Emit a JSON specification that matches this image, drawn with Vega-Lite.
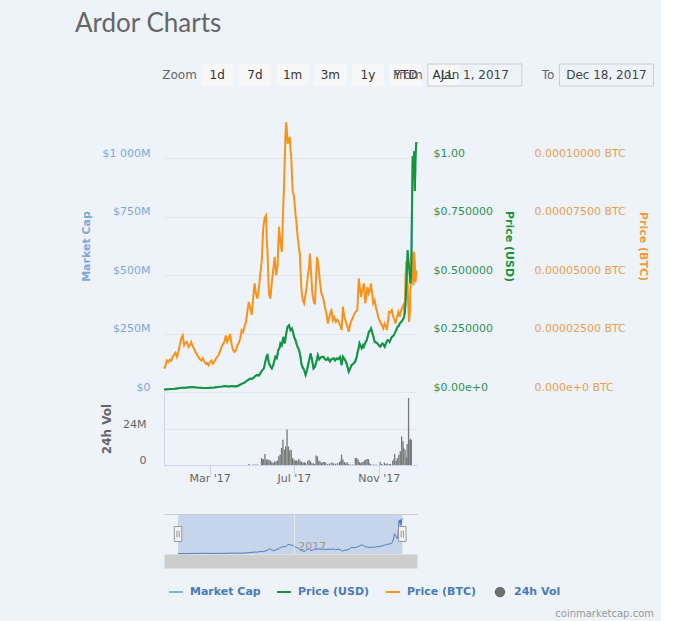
{
  "$schema": "https://vega.github.io/schema/vega-lite/v6.json",
  "background": "#eef3f9",
  "padding": {"left": 75, "top": 11, "right": 5, "bottom": 5},
  "title": {"text": "Ardor Charts", "anchor": "start", "frame": "bounds", "font": "Lato", "fontSize": 26, "fontWeight": "normal", "color": "#666666", "offset": 13, "dx": -5},
  "bounds": "flush",
  "spacing": 0,
  "datasets": {
    "buttons": [
      {"label": "Zoom", "kind": "text"}, {"label": "1d", "kind": "button"}, {"label": "7d", "kind": "button"}, {"label": "1m", "kind": "button"},
      {"label": "3m", "kind": "button"}, {"label": "1y", "kind": "button"}, {"label": "YTD", "kind": "button"}, {"label": "ALL", "kind": "button"}
    ],
    "range": [{"label": "From", "value": "Jan 1, 2017"}, {"label": "To", "value": "Dec 18, 2017"}],
    "selection": [{"start": "2017-01-01", "end": "2017-12-18"}],
    "series": [{"series": "Market Cap"}, {"series": "Price (USD)"}, {"series": "Price (BTC)"}, {"series": "24h Vol"}],
    "usd": [
      {"date":"2017-01-01","usd":0.011,"mcap":11},{"date":"2017-01-06","usd":0.012,"mcap":12},{"date":"2017-01-11","usd":0.013,"mcap":13},
      {"date":"2017-01-16","usd":0.014,"mcap":14},{"date":"2017-01-21","usd":0.016,"mcap":16},{"date":"2017-01-26","usd":0.018,"mcap":18},
      {"date":"2017-01-31","usd":0.018,"mcap":18},{"date":"2017-02-05","usd":0.020,"mcap":20},{"date":"2017-02-10","usd":0.021,"mcap":21},
      {"date":"2017-02-15","usd":0.019,"mcap":19},{"date":"2017-02-20","usd":0.018,"mcap":18},{"date":"2017-02-25","usd":0.017,"mcap":17},
      {"date":"2017-03-02","usd":0.017,"mcap":17},{"date":"2017-03-07","usd":0.018,"mcap":18},{"date":"2017-03-12","usd":0.019,"mcap":19},
      {"date":"2017-03-17","usd":0.021,"mcap":21},{"date":"2017-03-22","usd":0.023,"mcap":23},{"date":"2017-03-27","usd":0.026,"mcap":26},
      {"date":"2017-04-01","usd":0.024,"mcap":24},{"date":"2017-04-06","usd":0.026,"mcap":26},{"date":"2017-04-11","usd":0.024,"mcap":24},
      {"date":"2017-04-15","usd":0.028,"mcap":28},{"date":"2017-04-19","usd":0.035,"mcap":35},{"date":"2017-04-23","usd":0.040,"mcap":40},
      {"date":"2017-04-27","usd":0.050,"mcap":50},{"date":"2017-05-01","usd":0.058,"mcap":58},{"date":"2017-05-04","usd":0.056,"mcap":56},
      {"date":"2017-05-07","usd":0.065,"mcap":65},{"date":"2017-05-10","usd":0.073,"mcap":73},{"date":"2017-05-13","usd":0.070,"mcap":70},
      {"date":"2017-05-15","usd":0.080,"mcap":80},{"date":"2017-05-17","usd":0.090,"mcap":90},{"date":"2017-05-20","usd":0.101,"mcap":101},
      {"date":"2017-05-22","usd":0.130,"mcap":130},{"date":"2017-05-24","usd":0.155,"mcap":155},{"date":"2017-05-25","usd":0.158,"mcap":158},
      {"date":"2017-05-27","usd":0.123,"mcap":123},{"date":"2017-05-29","usd":0.110,"mcap":110},{"date":"2017-05-31","usd":0.101,"mcap":101},
      {"date":"2017-06-02","usd":0.115,"mcap":115},{"date":"2017-06-04","usd":0.140,"mcap":140},{"date":"2017-06-05","usd":0.151,"mcap":151},
      {"date":"2017-06-07","usd":0.145,"mcap":145},{"date":"2017-06-09","usd":0.179,"mcap":179},{"date":"2017-06-11","usd":0.190,"mcap":190},
      {"date":"2017-06-12","usd":0.208,"mcap":208},{"date":"2017-06-14","usd":0.200,"mcap":200},{"date":"2017-06-16","usd":0.236,"mcap":236},
      {"date":"2017-06-18","usd":0.208,"mcap":208},{"date":"2017-06-20","usd":0.250,"mcap":250},{"date":"2017-06-22","usd":0.279,"mcap":279},
      {"date":"2017-06-24","usd":0.286,"mcap":286},{"date":"2017-06-25","usd":0.275,"mcap":275},{"date":"2017-06-26","usd":0.265,"mcap":265},
      {"date":"2017-06-28","usd":0.272,"mcap":272},{"date":"2017-06-30","usd":0.250,"mcap":250},{"date":"2017-07-01","usd":0.236,"mcap":236},
      {"date":"2017-07-03","usd":0.222,"mcap":222},{"date":"2017-07-05","usd":0.200,"mcap":200},{"date":"2017-07-08","usd":0.179,"mcap":179},
      {"date":"2017-07-10","usd":0.150,"mcap":150},{"date":"2017-07-11","usd":0.123,"mcap":123},{"date":"2017-07-13","usd":0.105,"mcap":105},
      {"date":"2017-07-15","usd":0.094,"mcap":94},{"date":"2017-07-17","usd":0.073,"mcap":73},{"date":"2017-07-19","usd":0.094,"mcap":94},
      {"date":"2017-07-21","usd":0.123,"mcap":123},{"date":"2017-07-23","usd":0.150,"mcap":150},{"date":"2017-07-24","usd":0.165,"mcap":165},
      {"date":"2017-07-26","usd":0.137,"mcap":137},{"date":"2017-07-28","usd":0.101,"mcap":101},{"date":"2017-07-30","usd":0.108,"mcap":108},
      {"date":"2017-08-01","usd":0.130,"mcap":130},{"date":"2017-08-03","usd":0.158,"mcap":158},{"date":"2017-08-05","usd":0.140,"mcap":140},
      {"date":"2017-08-06","usd":0.144,"mcap":144},{"date":"2017-08-08","usd":0.150,"mcap":150},{"date":"2017-08-11","usd":0.151,"mcap":151},
      {"date":"2017-08-13","usd":0.140,"mcap":140},{"date":"2017-08-15","usd":0.137,"mcap":137},{"date":"2017-08-17","usd":0.145,"mcap":145},
      {"date":"2017-08-20","usd":0.130,"mcap":130},{"date":"2017-08-22","usd":0.140,"mcap":140},{"date":"2017-08-25","usd":0.144,"mcap":144},
      {"date":"2017-08-27","usd":0.135,"mcap":135},{"date":"2017-08-29","usd":0.144,"mcap":144},{"date":"2017-08-31","usd":0.140,"mcap":140},
      {"date":"2017-09-03","usd":0.151,"mcap":151},{"date":"2017-09-05","usd":0.115,"mcap":115},{"date":"2017-09-07","usd":0.151,"mcap":151},
      {"date":"2017-09-10","usd":0.137,"mcap":137},{"date":"2017-09-12","usd":0.123,"mcap":123},{"date":"2017-09-14","usd":0.100,"mcap":100},
      {"date":"2017-09-15","usd":0.087,"mcap":87},{"date":"2017-09-17","usd":0.100,"mcap":100},{"date":"2017-09-19","usd":0.115,"mcap":115},
      {"date":"2017-09-21","usd":0.120,"mcap":120},{"date":"2017-09-24","usd":0.130,"mcap":130},{"date":"2017-09-26","usd":0.150,"mcap":150},
      {"date":"2017-09-27","usd":0.165,"mcap":165},{"date":"2017-09-29","usd":0.190,"mcap":190},{"date":"2017-09-30","usd":0.208,"mcap":208},
      {"date":"2017-10-02","usd":0.195,"mcap":195},{"date":"2017-10-03","usd":0.187,"mcap":187},{"date":"2017-10-05","usd":0.200,"mcap":200},
      {"date":"2017-10-06","usd":0.194,"mcap":194},{"date":"2017-10-08","usd":0.210,"mcap":210},{"date":"2017-10-10","usd":0.222,"mcap":222},
      {"date":"2017-10-12","usd":0.245,"mcap":245},{"date":"2017-10-13","usd":0.258,"mcap":258},{"date":"2017-10-15","usd":0.265,"mcap":265},
      {"date":"2017-10-16","usd":0.272,"mcap":272},{"date":"2017-10-18","usd":0.251,"mcap":251},{"date":"2017-10-20","usd":0.230,"mcap":230},
      {"date":"2017-10-21","usd":0.215,"mcap":215},{"date":"2017-10-23","usd":0.212,"mcap":212},{"date":"2017-10-25","usd":0.208,"mcap":208},
      {"date":"2017-10-27","usd":0.200,"mcap":200},{"date":"2017-10-29","usd":0.194,"mcap":194},{"date":"2017-10-31","usd":0.205,"mcap":205},
      {"date":"2017-11-01","usd":0.208,"mcap":208},{"date":"2017-11-03","usd":0.200,"mcap":200},{"date":"2017-11-04","usd":0.194,"mcap":194},
      {"date":"2017-11-06","usd":0.210,"mcap":210},{"date":"2017-11-08","usd":0.222,"mcap":222},{"date":"2017-11-10","usd":0.220,"mcap":220},
      {"date":"2017-11-11","usd":0.215,"mcap":215},{"date":"2017-11-13","usd":0.230,"mcap":230},{"date":"2017-11-14","usd":0.236,"mcap":236},
      {"date":"2017-11-16","usd":0.240,"mcap":240},{"date":"2017-11-18","usd":0.251,"mcap":251},{"date":"2017-11-20","usd":0.265,"mcap":265},
      {"date":"2017-11-22","usd":0.279,"mcap":279},{"date":"2017-11-24","usd":0.285,"mcap":285},{"date":"2017-11-25","usd":0.293,"mcap":293},
      {"date":"2017-11-27","usd":0.300,"mcap":300},{"date":"2017-11-29","usd":0.307,"mcap":307},{"date":"2017-12-01","usd":0.322,"mcap":322},
      {"date":"2017-12-02","usd":0.340,"mcap":340},{"date":"2017-12-03","usd":0.379,"mcap":379},{"date":"2017-12-04","usd":0.450,"mcap":450},
      {"date":"2017-12-05","usd":0.521,"mcap":521},{"date":"2017-12-06","usd":0.607,"mcap":607},{"date":"2017-12-07","usd":0.560,"mcap":560},
      {"date":"2017-12-08","usd":0.536,"mcap":536},{"date":"2017-12-09","usd":0.500,"mcap":500},{"date":"2017-12-10","usd":0.465,"mcap":465},
      {"date":"2017-12-11","usd":0.521,"mcap":521},{"date":"2017-12-12","usd":0.780,"mcap":780},{"date":"2017-12-13","usd":1.010,"mcap":1010},
      {"date":"2017-12-14","usd":0.920,"mcap":920},{"date":"2017-12-15","usd":1.030,"mcap":1030},{"date":"2017-12-16","usd":0.860,"mcap":860},
      {"date":"2017-12-17","usd":1.010,"mcap":1010},{"date":"2017-12-18","usd":1.070,"mcap":1070}
    ],
    "btc": [
      {"date":"2017-01-01","sat":1000},{"date":"2017-01-03","sat":1100},{"date":"2017-01-05","sat":1350},{"date":"2017-01-07","sat":1280},
      {"date":"2017-01-09","sat":1380},{"date":"2017-01-11","sat":1330},{"date":"2017-01-13","sat":1500},{"date":"2017-01-15","sat":1600},
      {"date":"2017-01-17","sat":1680},{"date":"2017-01-19","sat":1500},{"date":"2017-01-21","sat":1720},{"date":"2017-01-23","sat":2000},
      {"date":"2017-01-25","sat":2300},{"date":"2017-01-27","sat":2420},{"date":"2017-01-29","sat":2000},{"date":"2017-01-31","sat":2120},
      {"date":"2017-02-02","sat":2140},{"date":"2017-02-04","sat":1920},{"date":"2017-02-06","sat":2000},{"date":"2017-02-08","sat":2140},
      {"date":"2017-02-10","sat":1950},{"date":"2017-02-12","sat":1850},{"date":"2017-02-14","sat":1700},{"date":"2017-02-16","sat":1600},
      {"date":"2017-02-18","sat":1500},{"date":"2017-02-20","sat":1400},{"date":"2017-02-22","sat":1350},{"date":"2017-02-24","sat":1450},
      {"date":"2017-02-26","sat":1300},{"date":"2017-02-28","sat":1210},{"date":"2017-03-02","sat":1250},{"date":"2017-03-04","sat":1140},
      {"date":"2017-03-06","sat":1280},{"date":"2017-03-08","sat":1350},{"date":"2017-03-10","sat":1210},{"date":"2017-03-12","sat":1300},
      {"date":"2017-03-14","sat":1420},{"date":"2017-03-16","sat":1500},{"date":"2017-03-18","sat":1570},{"date":"2017-03-20","sat":1750},
      {"date":"2017-03-22","sat":1920},{"date":"2017-03-24","sat":2050},{"date":"2017-03-26","sat":2140},{"date":"2017-03-28","sat":2420},
      {"date":"2017-03-30","sat":2140},{"date":"2017-04-01","sat":2280},{"date":"2017-04-03","sat":2490},{"date":"2017-04-05","sat":2050},
      {"date":"2017-04-07","sat":1800},{"date":"2017-04-09","sat":1720},{"date":"2017-04-11","sat":1800},{"date":"2017-04-13","sat":1990},
      {"date":"2017-04-15","sat":2100},{"date":"2017-04-17","sat":2280},{"date":"2017-04-19","sat":2640},{"date":"2017-04-21","sat":2560},
      {"date":"2017-04-23","sat":2800},{"date":"2017-04-25","sat":3000},{"date":"2017-04-27","sat":3450},{"date":"2017-04-29","sat":3850},
      {"date":"2017-05-01","sat":3600},{"date":"2017-05-03","sat":3300},{"date":"2017-05-05","sat":4000},{"date":"2017-05-07","sat":4650},
      {"date":"2017-05-09","sat":4200},{"date":"2017-05-11","sat":4000},{"date":"2017-05-13","sat":4400},{"date":"2017-05-15","sat":5080},
      {"date":"2017-05-17","sat":5600},{"date":"2017-05-19","sat":7000},{"date":"2017-05-21","sat":7450},{"date":"2017-05-23","sat":7560},
      {"date":"2017-05-24","sat":6500},{"date":"2017-05-25","sat":6000},{"date":"2017-05-27","sat":4200},{"date":"2017-05-29","sat":4000},
      {"date":"2017-05-31","sat":4700},{"date":"2017-06-02","sat":5210},{"date":"2017-06-04","sat":5780},{"date":"2017-06-06","sat":5000},
      {"date":"2017-06-08","sat":5400},{"date":"2017-06-10","sat":7070},{"date":"2017-06-12","sat":6400},{"date":"2017-06-14","sat":6000},
      {"date":"2017-06-16","sat":8060},{"date":"2017-06-17","sat":8800},{"date":"2017-06-18","sat":9910},{"date":"2017-06-19","sat":11000},
      {"date":"2017-06-20","sat":11550},{"date":"2017-06-21","sat":11200},{"date":"2017-06-22","sat":10630},{"date":"2017-06-24","sat":10800},
      {"date":"2017-06-25","sat":10920},{"date":"2017-06-26","sat":10400},{"date":"2017-06-27","sat":10060},{"date":"2017-06-28","sat":9300},
      {"date":"2017-06-29","sat":8630},{"date":"2017-07-01","sat":8350},{"date":"2017-07-03","sat":7600},{"date":"2017-07-04","sat":7350},
      {"date":"2017-07-06","sat":6640},{"date":"2017-07-08","sat":6100},{"date":"2017-07-09","sat":5930},{"date":"2017-07-10","sat":5200},
      {"date":"2017-07-11","sat":4500},{"date":"2017-07-12","sat":4200},{"date":"2017-07-13","sat":3930},{"date":"2017-07-15","sat":3790},
      {"date":"2017-07-16","sat":4000},{"date":"2017-07-17","sat":4200},{"date":"2017-07-18","sat":4360},{"date":"2017-07-20","sat":4930},
      {"date":"2017-07-22","sat":5400},{"date":"2017-07-23","sat":5930},{"date":"2017-07-24","sat":5400},{"date":"2017-07-25","sat":4930},
      {"date":"2017-07-26","sat":4400},{"date":"2017-07-27","sat":4070},{"date":"2017-07-29","sat":3800},{"date":"2017-07-30","sat":3790},
      {"date":"2017-07-31","sat":4500},{"date":"2017-08-02","sat":5780},{"date":"2017-08-03","sat":5600},{"date":"2017-08-04","sat":5360},
      {"date":"2017-08-06","sat":4700},{"date":"2017-08-08","sat":4210},{"date":"2017-08-10","sat":4070},{"date":"2017-08-12","sat":3790},
      {"date":"2017-08-13","sat":3600},{"date":"2017-08-15","sat":3360},{"date":"2017-08-17","sat":2930},{"date":"2017-08-19","sat":3220},
      {"date":"2017-08-21","sat":3450},{"date":"2017-08-22","sat":3500},{"date":"2017-08-24","sat":3070},{"date":"2017-08-26","sat":3200},
      {"date":"2017-08-28","sat":3000},{"date":"2017-08-30","sat":3100},{"date":"2017-09-01","sat":3000},{"date":"2017-09-02","sat":2930},
      {"date":"2017-09-04","sat":2800},{"date":"2017-09-05","sat":2650},{"date":"2017-09-07","sat":3650},{"date":"2017-09-08","sat":3400},
      {"date":"2017-09-09","sat":3220},{"date":"2017-09-11","sat":3000},{"date":"2017-09-12","sat":2930},{"date":"2017-09-14","sat":2700},
      {"date":"2017-09-15","sat":2580},{"date":"2017-09-17","sat":2900},{"date":"2017-09-19","sat":3070},{"date":"2017-09-21","sat":3200},
      {"date":"2017-09-23","sat":3360},{"date":"2017-09-25","sat":3450},{"date":"2017-09-27","sat":3500},{"date":"2017-09-29","sat":4860},
      {"date":"2017-09-30","sat":4600},{"date":"2017-10-02","sat":4070},{"date":"2017-10-03","sat":4200},{"date":"2017-10-04","sat":4360},
      {"date":"2017-10-06","sat":4650},{"date":"2017-10-07","sat":4300},{"date":"2017-10-08","sat":3790},{"date":"2017-10-10","sat":4200},
      {"date":"2017-10-11","sat":4500},{"date":"2017-10-13","sat":4220},{"date":"2017-10-15","sat":4400},{"date":"2017-10-16","sat":4650},
      {"date":"2017-10-18","sat":4100},{"date":"2017-10-19","sat":3790},{"date":"2017-10-21","sat":3930},{"date":"2017-10-23","sat":3600},
      {"date":"2017-10-24","sat":3500},{"date":"2017-10-26","sat":3220},{"date":"2017-10-28","sat":3050},{"date":"2017-10-30","sat":2930},
      {"date":"2017-11-01","sat":2800},{"date":"2017-11-02","sat":2720},{"date":"2017-11-04","sat":2930},{"date":"2017-11-06","sat":2800},
      {"date":"2017-11-07","sat":2650},{"date":"2017-11-09","sat":3100},{"date":"2017-11-10","sat":3430},{"date":"2017-11-12","sat":3400},
      {"date":"2017-11-14","sat":3500},{"date":"2017-11-16","sat":3220},{"date":"2017-11-18","sat":3050},{"date":"2017-11-19","sat":2930},
      {"date":"2017-11-21","sat":3200},{"date":"2017-11-23","sat":3430},{"date":"2017-11-25","sat":3220},{"date":"2017-11-27","sat":3500},
      {"date":"2017-11-29","sat":3650},{"date":"2017-11-30","sat":3720},{"date":"2017-12-02","sat":3360},{"date":"2017-12-03","sat":4930},
      {"date":"2017-12-04","sat":5600},{"date":"2017-12-05","sat":5200},{"date":"2017-12-06","sat":4500},{"date":"2017-12-07","sat":3600},
      {"date":"2017-12-08","sat":3000},{"date":"2017-12-09","sat":3400},{"date":"2017-12-10","sat":4500},{"date":"2017-12-11","sat":5500},
      {"date":"2017-12-12","sat":5980},{"date":"2017-12-13","sat":5000},{"date":"2017-12-14","sat":4560},{"date":"2017-12-15","sat":6000},
      {"date":"2017-12-16","sat":5500},{"date":"2017-12-17","sat":4700},{"date":"2017-12-18","sat":5200}
    ],
    "vol": [
      {"date":"2017-04-27","vol":0.7},{"date":"2017-05-03","vol":0.4},{"date":"2017-05-06","vol":0.4},{"date":"2017-05-09","vol":0.4},
      {"date":"2017-05-15","vol":4.7},{"date":"2017-05-16","vol":3.6},{"date":"2017-05-18","vol":4.0},{"date":"2017-05-20","vol":7.3},
      {"date":"2017-05-22","vol":3.6},{"date":"2017-05-24","vol":3.6},{"date":"2017-05-26","vol":3.1},{"date":"2017-05-28","vol":3.1},
      {"date":"2017-05-30","vol":2.0},{"date":"2017-06-01","vol":1.3},{"date":"2017-06-03","vol":2.4},{"date":"2017-06-05","vol":2.4},
      {"date":"2017-06-07","vol":2.9},{"date":"2017-06-09","vol":5.8},{"date":"2017-06-11","vol":6.9},{"date":"2017-06-13","vol":11.3},
      {"date":"2017-06-15","vol":16.9},{"date":"2017-06-17","vol":10.2},{"date":"2017-06-19","vol":12.4},{"date":"2017-06-21","vol":23.6},
      {"date":"2017-06-23","vol":12.4},{"date":"2017-06-25","vol":9.6},{"date":"2017-06-27","vol":10.2},{"date":"2017-06-29","vol":4.7},
      {"date":"2017-07-01","vol":3.6},{"date":"2017-07-03","vol":2.9},{"date":"2017-07-05","vol":3.1},{"date":"2017-07-07","vol":2.4},
      {"date":"2017-07-08","vol":4.2},{"date":"2017-07-10","vol":2.9},{"date":"2017-07-12","vol":2.0},{"date":"2017-07-14","vol":1.6},
      {"date":"2017-07-16","vol":2.0},{"date":"2017-07-18","vol":1.3},{"date":"2017-07-21","vol":2.9},{"date":"2017-07-23","vol":3.3},
      {"date":"2017-07-25","vol":2.4},{"date":"2017-07-27","vol":1.1},{"date":"2017-07-29","vol":1.1},{"date":"2017-07-31","vol":0.7},
      {"date":"2017-08-02","vol":6.4},{"date":"2017-08-04","vol":5.8},{"date":"2017-08-06","vol":2.9},{"date":"2017-08-08","vol":2.4},
      {"date":"2017-08-10","vol":1.3},{"date":"2017-08-12","vol":2.0},{"date":"2017-08-14","vol":2.0},{"date":"2017-08-16","vol":1.6},
      {"date":"2017-08-19","vol":0.7},{"date":"2017-08-22","vol":1.1},{"date":"2017-08-25","vol":1.6},{"date":"2017-08-27","vol":1.1},
      {"date":"2017-08-30","vol":0.9},{"date":"2017-09-02","vol":1.3},{"date":"2017-09-05","vol":2.0},{"date":"2017-09-07","vol":2.9},
      {"date":"2017-09-08","vol":6.9},{"date":"2017-09-10","vol":3.6},{"date":"2017-09-12","vol":2.0},{"date":"2017-09-14","vol":1.1},
      {"date":"2017-09-16","vol":2.0},{"date":"2017-09-18","vol":0.7},{"date":"2017-09-21","vol":0.4},{"date":"2017-09-24","vol":0.4},
      {"date":"2017-09-28","vol":4.7},{"date":"2017-09-30","vol":4.7},{"date":"2017-10-02","vol":3.6},{"date":"2017-10-04","vol":2.0},
      {"date":"2017-10-05","vol":1.1},{"date":"2017-10-07","vol":1.6},{"date":"2017-10-09","vol":2.0},{"date":"2017-10-11","vol":2.9},
      {"date":"2017-10-13","vol":3.6},{"date":"2017-10-15","vol":4.0},{"date":"2017-10-17","vol":3.8},{"date":"2017-10-18","vol":1.1},
      {"date":"2017-10-20","vol":0.7},{"date":"2017-10-24","vol":0.3},{"date":"2017-10-28","vol":0.3},{"date":"2017-11-03","vol":2.0},
      {"date":"2017-11-05","vol":0.7},{"date":"2017-11-09","vol":1.6},{"date":"2017-11-11","vol":0.7},{"date":"2017-11-13","vol":1.1},
      {"date":"2017-11-16","vol":0.7},{"date":"2017-11-18","vol":0.7},{"date":"2017-11-21","vol":2.9},{"date":"2017-11-23","vol":4.2},
      {"date":"2017-11-24","vol":7.3},{"date":"2017-11-26","vol":2.9},{"date":"2017-11-28","vol":4.7},{"date":"2017-11-30","vol":6.9},
      {"date":"2017-12-02","vol":9.1},{"date":"2017-12-04","vol":19.1},{"date":"2017-12-06","vol":15.8},{"date":"2017-12-07","vol":11.3},
      {"date":"2017-12-09","vol":10.2},{"date":"2017-12-11","vol":5.1},{"date":"2017-12-12","vol":14.0},{"date":"2017-12-14","vol":44.7},
      {"date":"2017-12-16","vol":16.9},{"date":"2017-12-17","vol":17.6},{"date":"2017-12-18","vol":16.7}
    ]
  },
  "vconcat": [
    {
      "width": 490, "height": 50,
      "layer": [
        {
          "data": {"name": "buttons"},
          "transform": [{"filter": "datum.kind == 'button'"}],
          "mark": {"type": "point", "shape": "M-1,-0.6875H1V0.6875H-1Z", "size": 1024, "filled": true, "color": "#f7f7f7", "opacity": 1},
          "encoding": {"x": {"field": "label", "type": "nominal", "scale": {"type": "point", "domain": ["Zoom","1d","7d","1m","3m","1y","YTD","ALL","From","Jan 1, 2017","To","Dec 18, 2017"], "padding": 1, "align": 0.206}, "axis": null}}
        },
        {
          "data": {"name": "buttons"},
          "mark": {"type": "text", "fontSize": 12, "font": "DejaVu Sans", "baseline": "middle"},
          "encoding": {
            "x": {"field": "label", "type": "nominal", "scale": {"type": "point", "domain": ["Zoom","1d","7d","1m","3m","1y","YTD","ALL","From","Jan 1, 2017","To","Dec 18, 2017"], "padding": 1, "align": 0.206}, "axis": null},
            "text": {"field": "label"},
            "color": {"condition": {"test": "datum.kind == 'text'", "value": "#666666"}, "value": "#333333"}
          }
        },
        {
          "data": {"name": "range"},
          "mark": {"type": "point", "shape": "M-1,-0.234H1V0.234H-1Z", "size": 8836, "filled": false, "stroke": "#cccccc", "strokeWidth": 1, "opacity": 1},
          "encoding": {"x": {"field": "value", "type": "nominal", "scale": {"type": "band", "domain": ["Jan 1, 2017","Dec 18, 2017"], "paddingInner": 0.277, "paddingOuter": 1, "align": 1}, "axis": null}}
        },
        {
          "data": {"name": "range"},
          "mark": {"type": "text", "fontSize": 12, "font": "DejaVu Sans", "color": "#444444", "baseline": "middle"},
          "encoding": {"x": {"field": "value", "type": "nominal", "scale": {"type": "band", "domain": ["Jan 1, 2017","Dec 18, 2017"], "paddingInner": 0.277, "paddingOuter": 1, "align": 1}, "axis": null}, "text": {"field": "value"}}
        },
        {
          "data": {"name": "range"},
          "mark": {"type": "text", "fontSize": 12, "font": "DejaVu Sans", "color": "#666666", "align": "right", "dx": -52, "baseline": "middle"},
          "encoding": {"x": {"field": "value", "type": "nominal", "scale": {"type": "band", "domain": ["Jan 1, 2017","Dec 18, 2017"], "paddingInner": 0.277, "paddingOuter": 1, "align": 1}, "axis": null}, "text": {"field": "label"}}
        }
      ],
      "resolve": {"scale": {"x": "independent"}}
    },
    {
      "width": 253, "height": 292,
      "layer": [
        {
          "data": {"name": "usd"},
          "mark": {"type": "line", "color": "#7cb5ec", "strokeWidth": 2},
          "encoding": {
            "x": {"field": "date", "type": "temporal", "scale": {"type": "utc", "domain": [{"year": 2017, "month": 1, "date": 1, "utc": true}, {"year": 2017, "month": 12, "date": 19, "utc": true}]}, "axis": null},
            "y": {"field": "mcap", "type": "quantitative", "scale": {"domain": [0, 1250], "nice": false},
              "axis": {"orient": "left", "values": [0, 250, 500, 750, 1000], "labelExpr": "datum.value == 0 ? '$0' : datum.value == 1000 ? '$1 000M' : '$' + datum.value + 'M'",
                "title": "Market Cap", "grid": true, "gridColor": "#e6e6e6", "domain": false, "ticks": false, "labelPadding": 14, "labelColor": "#7ea7d8", "titleColor": "#7ea7d8", "titlePadding": 11, "labelBaseline": "alphabetic", "labelOffset": -2, "labelFlush": false}}
          }
        },
        {
          "data": {"name": "btc"},
          "mark": {"type": "line", "color": "#f7931a", "strokeWidth": 2},
          "encoding": {
            "x": {"field": "date", "type": "temporal", "scale": {"type": "utc", "domain": [{"year": 2017, "month": 1, "date": 1, "utc": true}, {"year": 2017, "month": 12, "date": 19, "utc": true}]}, "axis": null},
            "y": {"field": "sat", "type": "quantitative", "scale": {"domain": [0, 12500], "nice": false},
              "axis": {"orient": "right", "offset": 105, "values": [0, 2500, 5000, 7500, 10000], "labelExpr": "datum.value == 0 ? '0.000e+0 BTC' : format(datum.value / 100000000, '.8f') + ' BTC'",
                "title": "Price (BTC)", "grid": false, "domain": false, "ticks": false, "labelPadding": 12, "labelColor": "#e8a04e", "titleColor": "#f29b35", "titlePadding": 12, "labelBaseline": "alphabetic", "labelOffset": -2, "labelFlush": false}}
          }
        },
        {
          "data": {"name": "usd"},
          "mark": {"type": "line", "color": "#13953c", "strokeWidth": 2},
          "encoding": {
            "x": {"field": "date", "type": "temporal", "scale": {"type": "utc", "domain": [{"year": 2017, "month": 1, "date": 1, "utc": true}, {"year": 2017, "month": 12, "date": 19, "utc": true}]}, "axis": null},
            "y": {"field": "usd", "type": "quantitative", "scale": {"domain": [0, 1.25], "nice": false},
              "axis": {"orient": "right", "values": [0, 0.25, 0.5, 0.75, 1], "labelExpr": "datum.value == 0 ? '$0.00e+0' : datum.value == 1 ? '$1.00' : '$' + format(datum.value, '.6f')",
                "title": "Price (USD)", "grid": false, "domain": false, "ticks": false, "labelPadding": 16, "labelColor": "#2d9150", "titleColor": "#13953c", "titlePadding": 11, "labelBaseline": "alphabetic", "labelOffset": -2, "labelFlush": false}}
          }
        }
      ],
      "resolve": {"scale": {"y": "independent"}}
    },
    {
      "width": 253, "height": 73,
      "data": {"name": "vol"},
      "mark": {"type": "bar", "color": "#777777", "width": 1.3},
      "encoding": {
        "x": {"field": "date", "type": "temporal", "scale": {"type": "utc", "domain": [{"year": 2017, "month": 1, "date": 1, "utc": true}, {"year": 2017, "month": 12, "date": 19, "utc": true}]},
          "axis": {"values": [{"year": 2017, "month": 3, "date": 1, "utc": true}, {"year": 2017, "month": 7, "date": 1, "utc": true}, {"year": 2017, "month": 11, "date": 1, "utc": true}],
            "format": "%b '%y", "title": null, "grid": false, "domainColor": "#ccd6eb", "tickColor": "#ccd6eb", "tickSize": 10, "labelPadding": -3, "labelColor": "#666666", "labelFlush": false}},
        "y": {"field": "vol", "type": "quantitative", "scale": {"domain": [0, 48.67], "nice": false},
          "axis": {"values": [0, 24], "labelExpr": "datum.value == 0 ? '0' : datum.value + 'M'", "title": "24h Vol", "titleFontSize": 12, "grid": true, "gridColor": "#e6e6e6", "domain": true, "domainColor": "#ccd6eb",
            "ticks": false, "labelPadding": 18, "titlePadding": 9, "labelBaseline": "alphabetic", "labelOffset": -2, "labelColor": "#666666", "titleColor": "#666666", "labelFlush": false}}
      }
    },
    {
      "width": 253, "height": 49,
      "data": {"name": "series"},
      "mark": {"type": "point", "filled": true, "opacity": 0},
      "encoding": {
        "color": {"field": "series", "type": "nominal",
          "scale": {"domain": ["Market Cap", "Price (USD)", "Price (BTC)", "24h Vol"], "range": ["#7cb5ec", "#13953c", "#f7931a", "#6f6f6f"]},
          "legend": {"title": null, "orient": "none", "legendX": 4, "legendY": 534, "direction": "horizontal", "clipHeight": 16,
            "encode": {"symbols": {"update": {"fill": {"scale": "color", "field": "value"}, "stroke": {"scale": "color", "field": "value"}, "strokeWidth": {"value": 2}, "opacity": {"value": 1}}}}}},
        "shape": {"field": "series", "type": "nominal",
          "scale": {"domain": ["Market Cap", "Price (USD)", "Price (BTC)", "24h Vol"], "range": ["M-1,0H1", "M-1,0H1", "M-1,0H1", "M-0.6,0A0.6,0.6,0,1,0,0.6,0A0.6,0.6,0,1,0,-0.6,0"]},
          "legend": {"title": null, "orient": "none", "legendX": 4, "legendY": 534, "direction": "horizontal", "clipHeight": 16,
            "encode": {"symbols": {"update": {"fill": {"scale": "color", "field": "value"}, "stroke": {"scale": "color", "field": "value"}, "strokeWidth": {"value": 2}, "opacity": {"value": 1}}}}}}
      }
    },
    {
      "width": 253, "height": 40,
      "title": {"text": "coinmarketcap.com", "orient": "bottom", "anchor": "end", "dx": 237, "offset": 48, "fontSize": 10, "fontWeight": "normal", "color": "#999999", "font": "DejaVu Sans"},
      "layer": [
        {
          "data": {"name": "selection"},
          "mark": {"type": "rect", "color": "#c6d4ec"},
          "encoding": {
            "x": {"field": "start", "type": "temporal", "scale": {"type": "utc", "domain": [{"year": 2016, "month": 12, "date": 10, "utc": true}, {"year": 2018, "month": 1, "date": 10, "utc": true}]},
              "axis": {"orient": "bottom", "domain": true, "domainColor": "#cdcdcd", "domainWidth": 14, "offset": 7, "ticks": false, "labels": false, "grid": false, "title": null}},
            "x2": {"field": "end"}
          }
        },
        {
          "data": {"name": "usd"},
          "mark": {"type": "line", "color": "#4d79b8", "strokeWidth": 1},
          "encoding": {
            "x": {"field": "date", "type": "temporal", "scale": {"type": "utc", "domain": [{"year": 2016, "month": 12, "date": 10, "utc": true}, {"year": 2018, "month": 1, "date": 10, "utc": true}]},
              "axis": {"orient": "top", "values": [{"year": 2017, "month": 7, "date": 1, "utc": true}], "format": "%Y", "grid": true, "gridColor": "#e3e8f0", "ticks": false, "tickSize": 0,
                "domain": true, "domainColor": "#cccccc", "labelAlign": "left", "labelBaseline": "middle", "labelPadding": -32, "labelOffset": 4, "labelColor": "#999999",
                "labelFlush": false, "labelOverlap": false, "labelBound": false, "title": null, "zindex": 1}},
            "y": {"field": "mcap", "type": "quantitative", "scale": {"domain": [0, 1200], "nice": false}, "axis": null}
          }
        },
        {
          "data": {"name": "selection"},
          "mark": {"type": "point", "shape": "M-0.5,-1H0.5V1H-0.5Z M-0.15,-0.45V0.45 M0.15,-0.45V0.45", "size": 225, "filled": true, "fill": "#f2f2f2", "stroke": "#999999", "strokeWidth": 1, "opacity": 1},
          "encoding": {"x": {"field": "start", "type": "temporal", "scale": {"type": "utc", "domain": [{"year": 2016, "month": 12, "date": 10, "utc": true}, {"year": 2018, "month": 1, "date": 10, "utc": true}]}, "axis": null}}
        },
        {
          "data": {"name": "selection"},
          "mark": {"type": "point", "shape": "M-0.5,-1H0.5V1H-0.5Z M-0.15,-0.45V0.45 M0.15,-0.45V0.45", "size": 225, "filled": true, "fill": "#f2f2f2", "stroke": "#999999", "strokeWidth": 1, "opacity": 1},
          "encoding": {"x": {"field": "end", "type": "temporal", "scale": {"type": "utc", "domain": [{"year": 2016, "month": 12, "date": 10, "utc": true}, {"year": 2018, "month": 1, "date": 10, "utc": true}]}, "axis": null}}
        }
      ],
      "resolve": {"scale": {"x": "independent"}}
    }
  ],
  "config": {
    "view": {"stroke": null},
    "axis": {"labelFont": "DejaVu Sans", "titleFont": "DejaVu Sans", "labelFontSize": 11, "titleFontSize": 11, "titleFontWeight": "bold"},
    "legend": {"labelFont": "DejaVu Sans", "labelFontSize": 11, "labelFontWeight": "bold", "labelColor": "#4a7ab7", "symbolSize": 196, "symbolStrokeWidth": 2, "labelOffset": 6, "columnPadding": 15},
    "text": {"font": "DejaVu Sans"}
  }
}
